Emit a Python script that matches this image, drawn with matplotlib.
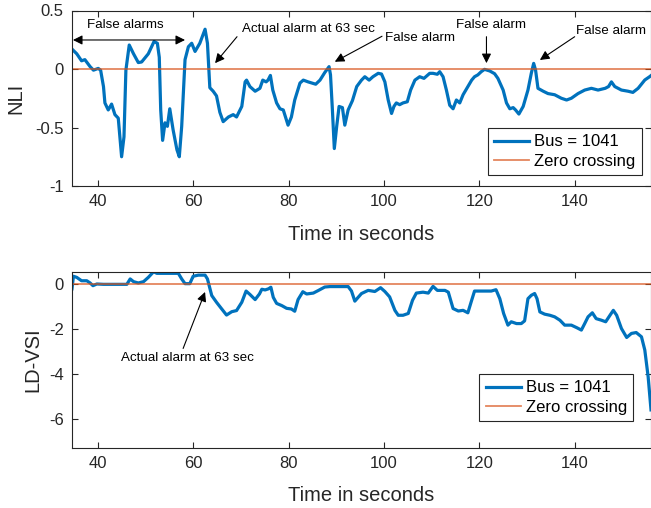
import matplotlib.pyplot as plt
import numpy as np

plt.rcParams['font.family'] = ['Liberation Sans', 'DejaVu Sans']
plt.rcParams['axes.unicode_minus'] = False

# NLI (top panel)
t_nli = [34.6, 35.6, 36.6, 37.3, 38.4, 39.1, 40.1, 40.6, 41.2, 41.5, 42.2, 42.9, 43.6, 44.3,
         45.0, 45.5, 45.9, 46.6, 47.5, 48.5, 49.2, 50.6, 51.8, 52.5, 52.9, 53.2, 53.6, 54.1,
         54.6, 55.1, 55.8, 56.6, 57.1, 57.6, 58.3, 59.0, 59.7, 60.4, 61.4, 62.5, 63.0, 63.5,
         64.2, 64.9, 65.6, 66.3, 67.4, 68.4, 69.1, 70.2, 70.9, 71.2, 71.9, 73.0, 74.0, 74.6,
         75.3, 75.7, 76.2, 76.7, 77.5, 78.2, 78.9, 79.9, 80.6, 81.3, 82.4, 83.1, 84.1, 85.7,
         86.6, 87.6, 88.5, 88.8, 89.2, 89.6, 90.1, 90.6, 91.3, 91.8, 92.5, 93.4, 94.3, 95.3,
         96.0, 96.9, 97.7, 98.8, 99.5, 100.2, 100.9, 101.6, 102.1, 102.6, 103.3, 104.0, 104.9,
         105.6, 106.5, 107.5, 108.4, 109.6, 110.3, 111.2, 111.7, 112.4, 113.1, 113.8, 114.5,
         115.2, 115.9, 116.6, 117.6, 118.4, 119.0, 119.7, 120.4, 121.1, 122.2, 123.2, 123.9,
         125.0, 125.7, 126.4, 127.1, 127.6, 128.3, 129.2, 130.2, 130.9, 131.4, 131.8, 132.3,
         133.4, 134.4, 135.8, 137.2, 138.3, 139.3, 140.7, 142.1, 143.5, 144.9, 146.4, 147.1,
         147.7, 148.4, 149.8, 151.2, 152.2, 153.3, 154.7, 155.7, 156.2]
nli = [0.17, 0.13, 0.07, 0.08, 0.02, -0.01, 0.005, -0.01, -0.15, -0.29, -0.35, -0.30, -0.39, -0.42,
       -0.75, -0.58, -0.01, 0.205, 0.13, 0.055, 0.06, 0.13, 0.235, 0.22, 0.10, -0.35, -0.61, -0.46,
       -0.49, -0.34, -0.52, -0.69, -0.75, -0.49, 0.08, 0.19, 0.22, 0.15, 0.22, 0.34, 0.22, -0.16,
       -0.19, -0.23, -0.37, -0.45, -0.41, -0.39, -0.41, -0.32, -0.11, -0.095, -0.15, -0.19, -0.165, -0.095,
       -0.11, -0.095, -0.055, -0.18, -0.29, -0.34, -0.35, -0.48, -0.41, -0.265, -0.12, -0.095, -0.11, -0.13,
       -0.095, -0.03, 0.02, -0.05, -0.35, -0.68, -0.49, -0.32, -0.33, -0.48, -0.35, -0.27, -0.15, -0.095,
       -0.066, -0.095, -0.066, -0.037, -0.043, -0.11, -0.265, -0.38, -0.32, -0.29, -0.305, -0.29, -0.28,
       -0.18, -0.095, -0.066, -0.08, -0.037, -0.037, -0.045, -0.023, -0.066, -0.18, -0.31, -0.34,
       -0.265, -0.29, -0.22, -0.15, -0.095, -0.066, -0.05, -0.023, -0.003, -0.017, -0.04, -0.08,
       -0.18, -0.29, -0.34, -0.33, -0.35, -0.385, -0.32, -0.18, -0.037, 0.048, -0.01, -0.165,
       -0.19, -0.21, -0.22, -0.25, -0.265, -0.25, -0.21, -0.18, -0.165, -0.18, -0.165, -0.15,
       -0.11, -0.15, -0.18, -0.19, -0.2, -0.165, -0.094, -0.066, -0.05]

# LD-VSI (bottom panel)
t_vsi = [34.6, 34.9, 35.6, 36.6, 37.7, 38.4, 39.0, 39.8, 41.2, 46.1, 46.8, 47.5, 48.5, 49.6,
         50.6, 51.7, 52.4, 56.9, 57.6, 58.3, 59.3, 60.0, 61.1, 62.5, 63.0, 63.9, 64.9, 66.0,
         67.0, 68.1, 69.1, 70.2, 71.1, 71.9, 73.0, 73.9, 74.4, 75.1, 75.8, 76.3, 76.8, 77.5,
         78.6, 79.6, 80.6, 81.3, 82.0, 83.0, 83.8, 85.2, 86.2, 87.6, 88.7, 92.5, 93.2, 93.9,
         95.3, 96.7, 98.1, 99.3, 100.2, 101.2, 102.3, 103.0, 104.0, 105.1, 106.0, 106.8, 108.2,
         109.3, 110.3, 111.2, 112.8, 113.5, 114.5, 115.6, 116.6, 117.6, 118.4, 119.0, 120.8,
         122.5, 123.5, 124.3, 125.1, 126.0, 126.7, 127.8, 128.8, 129.5, 130.2, 130.9, 131.6,
         132.1, 132.7, 133.7, 134.8, 135.8, 136.9, 137.9, 139.3, 140.4, 141.4, 142.1, 142.8,
         143.7, 144.5, 145.6, 146.5, 147.4, 148.1, 148.8, 149.8, 150.9, 151.9, 152.9, 154.0,
         154.7, 155.4, 156.0]
ldvsi = [-0.2, 0.36, 0.31, 0.16, 0.16, 0.06, -0.06, 0.015, 0.0, 0.0, 0.24, 0.12, 0.06, 0.12,
         0.31, 0.56, 0.49, 0.49, 0.24, 0.03, 0.03, 0.36, 0.41, 0.41, 0.24, -0.5, -0.8, -1.1,
         -1.37, -1.22, -1.17, -0.8, -0.3, -0.45, -0.68, -0.43, -0.22, -0.25, -0.2, -0.13, -0.58, -0.85,
         -0.95, -1.07, -1.1, -1.2, -0.68, -0.33, -0.43, -0.39, -0.28, -0.12, -0.1, -0.1, -0.3, -0.75,
         -0.41, -0.27, -0.32, -0.15, -0.32, -0.56, -1.16, -1.38, -1.38, -1.3, -0.71, -0.39, -0.35,
         -0.39, -0.09, -0.27, -0.27, -0.35, -1.08, -1.19, -1.16, -1.27, -0.71, -0.3, -0.3,
         -0.3, -0.24, -0.64, -1.3, -1.82, -1.67, -1.75, -1.75, -1.63, -0.64, -0.49, -0.41,
         -0.64, -1.23, -1.33, -1.38, -1.45, -1.6, -1.82, -1.82, -1.93, -2.04, -1.75, -1.45,
         -1.27, -1.53, -1.6, -1.67, -1.38, -1.16, -1.38, -1.97, -2.37, -2.19, -2.15, -2.34,
         -2.93, -4.12, -5.6]

x_ticks = [40, 60, 80, 100, 120, 140]
blue = '#0072BD'
orange = '#D95319'
dark = '#262626'

fig = plt.figure(figsize=(6.51, 5.08), dpi=100)
ax1 = fig.add_axes([72/651, 1-186/508, 579/651, 175.5/508])
ax2 = fig.add_axes([72/651, 1-448/508, 579/651, 176/508])

for ax in (ax1, ax2):
    ax.tick_params(direction='in', top=True, right=True, length=4, width=0.8,
                   labelsize=12, colors=dark, pad=6)
    for s in ax.spines.values():
        s.set_color(dark)
        s.set_linewidth(0.8)
    ax.set_xlim(34.6, 156)
    ax.set_xticks(x_ticks)

# top
ax1.plot(t_nli, nli, color=blue, lw=2.3, label='Bus = 1041')
ax1.axhline(0, color=orange, lw=1.3, alpha=0.7, label='Zero crossing')
ax1.set_ylim(-1, 0.5)
ax1.set_yticks([-1, -0.5, 0, 0.5])
ax1.set_yticklabels(['-1', '-0.5', '0', '0.5'])
ax1.set_xlabel('Time in seconds', fontsize=14.5, color=dark)
ax1.set_ylabel('NLI', fontsize=14.5, color=dark)
ax1.xaxis.set_label_coords(0.5, -0.225)
ax1.yaxis.set_label_coords(-0.08, 0.5)

fs = 9.6
ap = dict(arrowstyle='-|>', color='black', lw=0.8, mutation_scale=14, shrinkA=0, shrinkB=0)
ax1.annotate('', xy=(34.8, 0.248), xytext=(58.3, 0.248),
             arrowprops=dict(arrowstyle='<|-|>', color='black', lw=0.8, mutation_scale=14,
                             shrinkA=0, shrinkB=0))
ax1.text(45.7, 0.376, 'False alarms', fontsize=fs, ha='center', va='center')
ax1.annotate('', xy=(64.6, 0.05), xytext=(69.2, 0.276), arrowprops=ap)
ax1.text(70.2, 0.34, 'Actual alarm at 63 sec', fontsize=fs, ha='left', va='center')
ax1.annotate('', xy=(89.7, 0.062), xytext=(99.6, 0.28), arrowprops=ap)
ax1.text(100.3, 0.262, 'False alarm', fontsize=fs, ha='left', va='center')
ax1.annotate('', xy=(121.5, 0.05), xytext=(121.5, 0.276), arrowprops=ap)
ax1.text(122.4, 0.376, 'False alarm', fontsize=fs, ha='center', va='center')
ax1.annotate('', xy=(132.7, 0.077), xytext=(140.0, 0.276), arrowprops=ap)
ax1.text(147.6, 0.327, 'False alarm', fontsize=fs, ha='center', va='center')

leg_kw = dict(fontsize=12, frameon=True, fancybox=False, framealpha=1, edgecolor=dark,
              handlelength=2.1, handletextpad=0.3, borderpad=0.38, labelspacing=0.25,
              borderaxespad=0)
l1 = ax1.legend(loc='lower right', bbox_to_anchor=(641.7/651, 1-175/508),
                bbox_transform=fig.transFigure, **leg_kw)
l1.get_frame().set_linewidth(0.8)

# bottom
ax2.plot(t_vsi, ldvsi, color=blue, lw=2.3, label='Bus = 1041')
ax2.axhline(0, color=orange, lw=1.3, alpha=0.7, label='Zero crossing')
ax2.set_ylim(-7.3, 0.55)
ax2.set_yticks([-6, -4, -2, 0])
ax2.set_xlabel('Time in seconds', fontsize=14.5, color=dark)
ax2.set_ylabel('LD-VSI', fontsize=14.5, color=dark)
ax2.xaxis.set_label_coords(0.5, -0.215)
ax2.yaxis.set_label_coords(-0.052, 0.5)
ax2.annotate('', xy=(62.5, -0.34), xytext=(57.9, -2.86), arrowprops=ap)
ax2.text(58.8, -3.3, 'Actual alarm at 63 sec', fontsize=fs, ha='center', va='center')
l2 = ax2.legend(loc='lower right', bbox_to_anchor=(633.3/651, 1-421/508),
                bbox_transform=fig.transFigure, **leg_kw)
l2.get_frame().set_linewidth(0.8)

fig.savefig('out.png', dpi=100)
